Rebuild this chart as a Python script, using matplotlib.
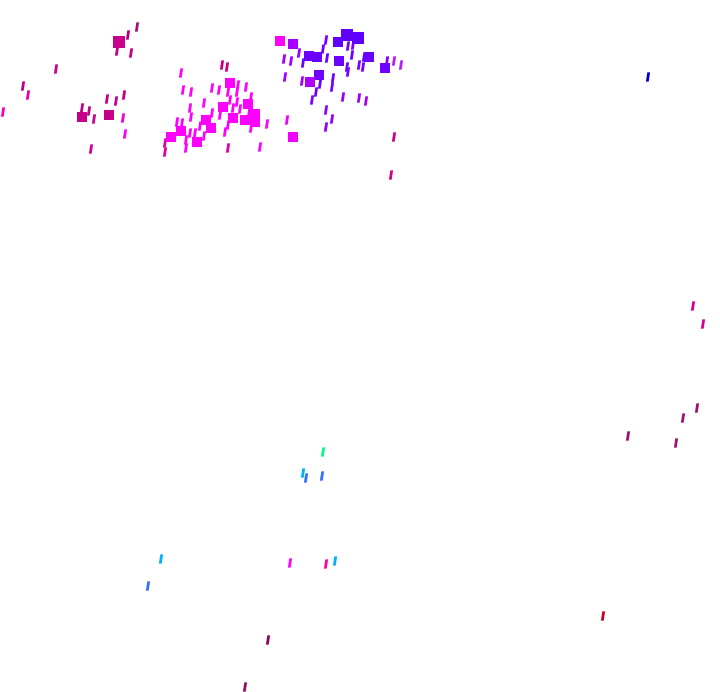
import matplotlib
matplotlib.use("Agg")
import matplotlib.pyplot as plt
from matplotlib.path import Path

# point data (x, y in chart units) with colour groups
stroke_x = [137, 128, 117, 131, 56, 23, 28, 3, 107, 116, 124, 82, 89, 94, 123, 125, 91,
            222, 227, 181, 238, 246, 212, 183, 191, 219, 228, 237, 251, 204, 230, 237,
            233, 240, 190, 212, 249, 220, 191, 267, 177, 182, 200, 228, 251, 190, 195,
            225, 204, 186, 165, 165, 186, 228, 260,
            326, 323, 348, 353, 299, 327, 352, 364, 387, 394, 401, 284, 291, 303, 347,
            359, 363, 348, 285, 302, 320, 333, 332, 316, 343, 359, 366, 312, 326, 332,
            326, 287, 394, 391,
            648, 693, 703, 697, 683, 628, 676,
            323, 303, 306, 322, 161, 148, 290, 326, 335, 603, 268, 245]
stroke_y = [27, 35, 51, 53, 69, 86, 95, 112, 99, 101, 95, 108, 111, 119, 118, 134, 149,
            65, 67, 73, 85, 87, 88, 90, 92, 90, 92, 92, 97, 103, 100, 102,
            108, 109, 108, 113, 113, 115, 117, 124, 122, 123, 126, 125, 128, 133, 133,
            132, 136, 140, 143, 152, 148, 148, 147,
            40, 49, 46, 45, 53, 58, 55, 57, 61, 61, 65, 59, 61, 63, 67,
            65, 67, 72, 77, 81, 84, 78, 87, 92, 97, 98, 101, 100, 110, 119,
            127, 120, 137, 175,
            77, 306, 324, 408, 418, 436, 443,
            452, 473, 478, 476, 559, 586, 563, 564, 561, 616, 640, 687]
stroke_c = (['#a0107a', '#b00080', '#c2008a', '#c2008a', '#c8008c', '#c0008a', '#e000b0',
             '#f000c0', '#c2008a', '#c2008a', '#c0008a', '#c2008a', '#c2008a', '#c8008c',
             '#f000d0', '#ff00ff', '#d0009a']
            + ['#c8007c', '#d0008c'] + ['#ff00ff'] * 28
            + ['#ff00ff', '#ff00ff', '#ff00ff', '#e000a0', '#e000a0', '#ff00ff', '#e000a0',
               '#ff00ff']
            + ['#7000ff', '#7000ff', '#7000ff', '#7000ff', '#9a00ff', '#6a00ff', '#7000ff',
               '#7000ff', '#8000ff', '#b020ff', '#b020ff', '#a000ff', '#a000ff', '#7000ff',
               '#7000ff', '#7a00ff', '#7000ff', '#7000ff', '#a000ff', '#a000ff', '#7000ff',
               '#7000ff', '#7000ff', '#7000ff', '#a000f0', '#a000f0', '#a000f0', '#8000ff',
               '#9000ff', '#9000ff', '#9000ff', '#ee00ff', '#c8008a', '#d0008a']
            + ['#0000d0', '#d0009a', '#d0009a', '#a0106e', '#a0106e', '#a0106e', '#a0106e']
            + ['#00ff80', '#00b0ff', '#3070ff', '#3070ff', '#00b0ff', '#3070ff', '#ff00ff',
               '#ff00a0', '#00b0ff', '#c00020', '#900060', '#901060'])

blob_x = [119, 82, 109, 230, 248, 223, 255, 233, 245, 206, 255, 211, 181, 171, 197,
          280, 293, 347, 358, 338, 309, 317, 339, 369, 385, 319, 310, 293]
blob_y = [42, 117, 115, 83, 104, 107, 114, 118, 120, 120, 122, 128, 131, 137, 142,
          41, 44, 35, 38, 42, 56, 57, 61, 57, 68, 75, 82, 137]
blob_s = [2, 1, 1, 1, 1, 1, 1, 1, 1, 1, 1, 1, 1, 1, 1,
          1, 1, 2, 2, 1, 1, 1, 1, 1, 1, 1, 1, 1]
blob_c = ['#c8008c', '#c2008a', '#c2008a'] + ['#ff00ff'] * 12 + [
    '#ff00ff', '#a800ff', '#5f00ff', '#5f00ff', '#6000ff', '#6a00ff', '#6a00ff',
    '#6a00ff', '#6a00ff', '#7000ff', '#7000ff', '#b000ff', '#f000ff']

# slanted stroke marker
stroke = Path([(-0.45, -1), (0.15, -1), (0.45, 1), (-0.15, 1), (-0.45, -1)],
              [Path.MOVETO, Path.LINETO, Path.LINETO, Path.LINETO, Path.CLOSEPOLY])

fig = plt.figure(figsize=(7.2, 6.92), dpi=100)
ax = fig.add_axes([0, 0, 1, 1])
ax.scatter(stroke_x, stroke_y, c=stroke_c, marker=stroke, s=45, linewidths=0)
ax.scatter(blob_x, blob_y, c=blob_c, marker='s',
           s=[42 if b == 1 else 85 for b in blob_s], linewidths=0)
ax.set_xlim(0, 720)
ax.set_ylim(692, 0)
ax.axis('off')
fig.savefig('out.png', dpi=100)
